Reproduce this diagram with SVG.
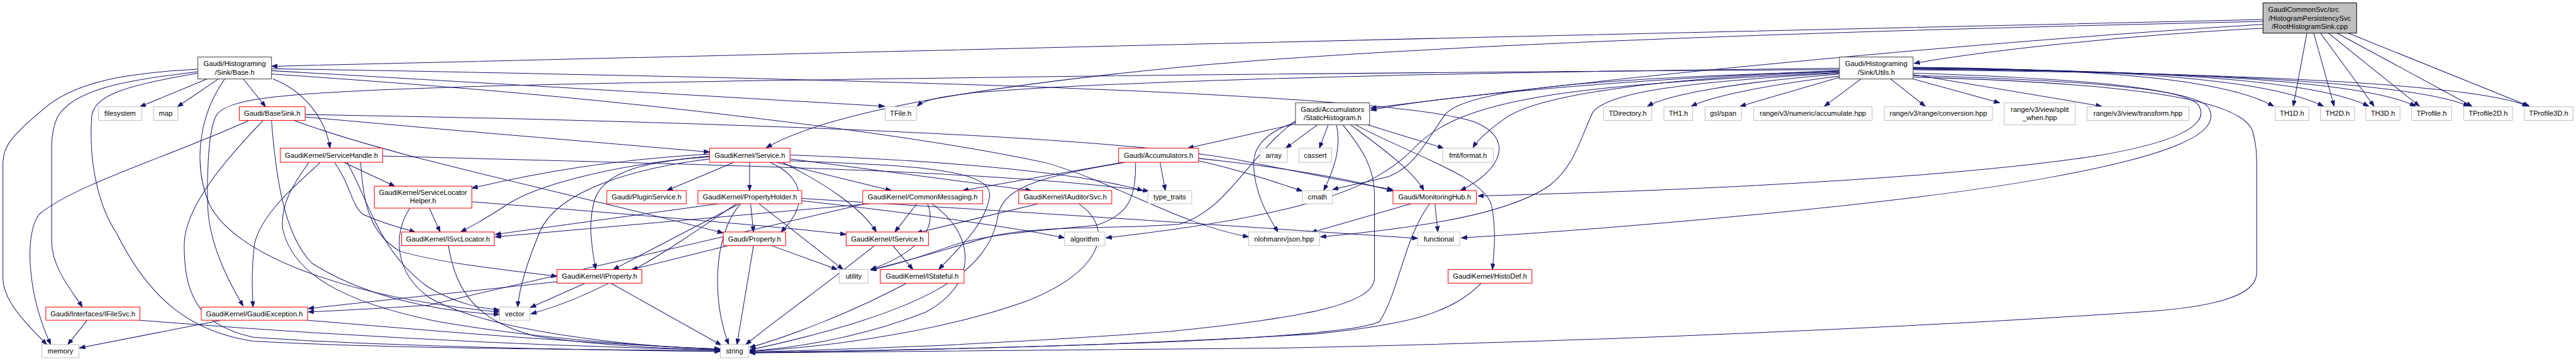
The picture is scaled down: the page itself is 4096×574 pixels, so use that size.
<svg xmlns="http://www.w3.org/2000/svg" width="4096" height="574" viewBox="0 0 4096 574">
<defs>
<style>
.t{font-family:"Liberation Sans",Arial,sans-serif;font-size:14.5px;text-anchor:middle;fill:#000}
.r{fill:#fff;stroke:#ff0000;stroke-width:1.3}
.g{fill:#fff;stroke:#bfbfbf;stroke-width:1.3}
.k{fill:#fff;stroke:#404040;stroke-width:1.3}
.root{fill:#bfbfbf;stroke:#000;stroke-width:1.3}
#edges path{fill:none;stroke:#191970;stroke-width:1.3;marker-end:url(#a)}
</style>
<marker id="a" viewBox="0 0 12 9" refX="12" refY="4.5" markerWidth="12" markerHeight="9" markerUnits="userSpaceOnUse" orient="auto"><path d="M0,0 L12,4.5 L0,9 z" fill="#191970" stroke="#191970" stroke-width="1"/></marker>
</defs>
<rect x="0" y="0" width="4096" height="574" fill="#fff"/>
<g transform="scale(0.775)">
<g id="edges">
<path d="M4643,40 C3300,68 1800,108 557,136"/>
<path d="M4643,58 C4400,70 4100,100 3927,130"/>
<path d="M4643,50 C4000,90 3300,160 2812,222"/>
<path d="M4643,44 C3600,66 2800,100 2400,140 C2000,180 1700,230 1572,303"/>
<path d="M4733,68 L4705,218"/>
<path d="M4747,68 L4789,218"/>
<path d="M4761,68 L4871,218"/>
<path d="M4777,68 L4964,218"/>
<path d="M4795,68 L5072,218"/>
<path d="M4818,68 L5190,218"/>
<path d="M3776,158 L3570,218"/>
<path d="M3818,162 L3743,218"/>
<path d="M3879,162 L3950,218"/>
<path d="M3925,162 L4103,211"/>
<path d="M3925,153 L4312,218"/>
<path d="M3925,138 C4300,142 4560,160 4665,218"/>
<path d="M3925,139 C4350,143 4650,160 4767,218"/>
<path d="M3925,140 C4400,144 4750,162 4860,218"/>
<path d="M3925,141 C4450,145 4850,165 4956,218"/>
<path d="M3925,142 C4500,147 4950,168 5066,218"/>
<path d="M3925,143 C4600,150 5080,172 5187,218"/>
<path d="M3925,150 C4250,160 4480,180 4510,215 C4540,260 4450,295 4300,320 C4000,365 3500,390 3032,402"/>
<path d="M3925,155 C4300,165 4510,185 4532,222 C4560,275 4450,320 4200,365 C3900,420 3300,470 2998,488"/>
<path d="M3925,158 C4350,170 4600,200 4622,270 C4630,300 4630,320 4630,340 L4630,560 C4630,605 4550,628 4420,638 C4000,668 3300,700 2640,714 C2200,720 1800,723 1538,724"/>
<path d="M3774,145 C3400,160 3000,190 2812,226"/>
<path d="M3774,140 C3000,148 2300,165 2000,190 C1930,198 1895,205 1882,218"/>
<path d="M3774,152 C3550,170 3420,195 3380,218"/>
<path d="M3774,156 C3620,175 3510,198 3470,218"/>
<path d="M3774,147 C3400,160 3150,195 3085,245 C3050,270 3030,290 3022,303"/>
<path d="M3774,150 C3450,168 3300,190 3268,230 C3240,290 3230,340 3180,380 C3080,450 2850,472 2709,486"/>
<path d="M3774,146 C3300,160 3010,180 2965,235 C2925,290 2905,340 2850,362 C2800,375 2760,382 2734,389"/>
<path d="M3774,149 C3200,175 3000,205 2905,300 C2830,380 2700,440 2269,488"/>
<path d="M3774,143 C2500,150 1200,168 900,180 C600,190 470,200 445,235 C425,265 425,380 426,420 C428,500 470,580 499,628"/>
<path d="M425,162 L287,219"/>
<path d="M448,162 L364,219"/>
<path d="M499,162 L545,219"/>
<path d="M560,162 C620,185 668,240 677,304"/>
<path d="M406,142 C250,150 160,170 100,215 C20,280 6,300 6,340 L6,570 C6,620 60,670 96,707"/>
<path d="M406,147 C250,165 150,185 118,240 C108,262 106,280 106,300 L106,495 C106,550 150,600 169,630"/>
<path d="M406,150 C260,175 192,195 188,240 C182,330 200,420 240,480 C300,600 380,680 520,700 C800,715 1200,718 1478,719"/>
<path d="M461,162 C400,250 400,350 430,420 C480,520 700,610 1025,640"/>
<path d="M557,145 L1815,218"/>
<path d="M557,141 C1800,162 2850,190 3025,250 C3110,285 3080,350 2996,391"/>
<path d="M557,152 C1300,200 1900,280 2150,335 C2300,380 2420,460 2562,486"/>
<path d="M511,247 C350,320 150,380 80,440 C50,480 55,600 104,707"/>
<path d="M540,247 C470,320 380,420 378,500 C376,620 420,670 520,692 C800,712 1200,718 1478,721"/>
<path d="M557,247 C565,350 580,480 640,540 C750,610 900,640 1025,645"/>
<path d="M603,247 C800,320 1100,380 1484,478"/>
<path d="M626,240 C900,265 1200,290 1456,312"/>
<path d="M626,235 C1500,250 2300,280 2550,330 C2700,360 2800,380 2858,389"/>
<path d="M705,333 L810,382"/>
<path d="M686,333 C720,380 720,420 745,440 C790,460 830,470 852,476"/>
<path d="M657,333 C620,370 540,430 522,500 C515,560 518,600 519,630"/>
<path d="M634,333 C600,380 575,420 580,470 C600,560 700,620 900,660 C1100,695 1350,712 1478,717"/>
<path d="M740,333 C745,420 760,480 820,515 C900,540 1050,555 1143,567"/>
<path d="M712,333 C760,420 780,520 880,590 C940,625 990,633 1025,636"/>
<path d="M785,320 C1300,335 2000,345 2357,392"/>
<path d="M881,427 L903,476"/>
<path d="M841,427 C805,480 810,560 880,610 C1000,680 1300,712 1478,716"/>
<path d="M968,414 C1300,440 1600,465 1736,481"/>
<path d="M920,504 C935,600 980,660 1100,690 C1250,712 1400,716 1478,718"/>
<path d="M1506,333 L1368,391"/>
<path d="M1538,333 L1538,391"/>
<path d="M1592,333 L1829,391"/>
<path d="M1621,326 L2116,391"/>
<path d="M1580,333 C1650,365 1660,420 1602,476"/>
<path d="M1456,322 C1330,330 1240,350 1220,410 C1205,460 1215,510 1222,553"/>
<path d="M1456,326 C1300,345 1150,390 1110,470 C1080,540 1066,590 1062,630"/>
<path d="M1456,320 C1250,340 1100,380 1040,420 C995,450 960,468 945,476"/>
<path d="M1456,316 C1250,328 1100,355 968,386"/>
<path d="M1605,333 C1700,380 1770,430 1798,476"/>
<path d="M1621,330 C1900,340 2040,350 2030,405 C2020,465 1960,515 1926,553"/>
<path d="M1621,318 C1900,328 2200,350 2345,391"/>
<path d="M1474,418 L1016,481"/>
<path d="M1517,418 L1258,553"/>
<path d="M1540,418 L1546,476"/>
<path d="M1557,418 L1730,553"/>
<path d="M1520,418 C1470,470 1455,600 1495,707"/>
<path d="M1511,418 C1390,500 1250,600 1089,644"/>
<path d="M1645,412 C1900,440 2100,470 2184,488"/>
<path d="M1645,407 C2000,428 2600,468 2909,489"/>
<path d="M1785,418 L1016,486"/>
<path d="M1881,418 L1836,476"/>
<path d="M1903,418 C1925,470 1880,520 1786,553"/>
<path d="M1912,418 C2000,480 2010,580 1900,640 C1750,700 1600,716 1538,720"/>
<path d="M1775,418 L880,626 Q760,634 632,640"/>
<path d="M2130,418 L1880,478"/>
<path d="M2213,418 C2290,470 2260,560 2100,620 C1900,690 1650,715 1538,721"/>
<path d="M2303,333 L1975,391"/>
<path d="M2380,333 L2391,391"/>
<path d="M2330,333 C2330,400 2320,440 2250,462 C2150,472 2020,480 1950,505 C1880,530 1820,548 1786,554"/>
<path d="M2459,330 C2550,350 2620,375 2672,392"/>
<path d="M2459,325 C2650,345 2780,370 2858,392"/>
<path d="M2310,333 C2150,360 2060,380 2048,440 C2030,560 1900,640 1538,718"/>
<path d="M2660,254 L2437,304"/>
<path d="M2703,256 L2638,304"/>
<path d="M2725,256 L2707,304"/>
<path d="M2742,256 C2752,300 2740,340 2716,391"/>
<path d="M2755,256 C2790,300 2820,340 2820,400 L2820,570 C2820,620 2700,650 2400,680 C2000,710 1700,718 1538,722"/>
<path d="M2771,256 C2830,300 2900,350 2921,391"/>
<path d="M2781,256 C2900,320 3040,360 3060,420 C3070,470 3066,510 3062,553"/>
<path d="M2806,256 L2962,304"/>
<path d="M2660,250 C2600,270 2570,300 2572,340 C2575,400 2600,440 2622,476"/>
<path d="M2658,248 C2560,320 2520,430 2420,460 C2300,470 2120,462 2030,486 C1950,508 1850,540 1786,553"/>
<path d="M2895,418 L2690,477"/>
<path d="M2944,418 L2950,476"/>
<path d="M2933,418 C2880,490 2870,600 2830,660 C2750,700 2000,716 1538,723"/>
<path d="M3039,581 C2980,640 2900,665 2700,685 C2300,710 1800,720 1538,724"/>
<path d="M1201,581 L1088,631"/>
<path d="M1253,581 L1480,708"/>
<path d="M1143,578 C950,598 800,615 632,633"/>
<path d="M1494,504 L1296,553"/>
<path d="M1546,504 L1512,707"/>
<path d="M1583,504 L1718,553"/>
<path d="M1832,504 L1873,553"/>
<path d="M1794,504 C1700,580 1600,650 1530,707"/>
<path d="M1860,581 C1750,640 1620,690 1538,713"/>
<path d="M453,657 L163,714"/>
<path d="M631,657 C900,680 1200,705 1478,716"/>
<path d="M179,657 L139,707"/>
<path d="M287,657 C700,690 1100,710 1478,718"/>
</g>
<g id="n_root"><rect class="root" x="4643" y="6" width="192" height="62"/><text class="t" x="4726" y="25">GaudiCommonSvc/src</text><text class="t" x="4739" y="42">/HistogramPersistencySvc</text><text class="t" x="4739" y="59">/RootHistogramSink.cpp</text></g>
<g id="n_base"><rect class="k" x="406" y="117" width="151" height="45"/><text class="t" x="481.5" y="136">Gaudi/Histograming</text><text class="t" x="481.5" y="153">/Sink/Base.h</text></g>
<g id="n_utils"><rect class="k" x="3774" y="117" width="151" height="45"/><text class="t" x="3849.5" y="136">Gaudi/Histograming</text><text class="t" x="3849.5" y="153">/Sink/Utils.h</text></g>
<g id="n_filesystem"><rect class="g" x="202" y="219" width="89" height="28"/><text class="t" x="246.5" y="238">filesystem</text></g>
<g id="n_map"><rect class="g" x="315" y="219" width="50" height="28"/><text class="t" x="340" y="238">map</text></g>
<g id="n_basesink"><rect class="r" x="491" y="219" width="135" height="28"/><text class="t" x="558.5" y="238">Gaudi/BaseSink.h</text></g>
<g id="n_tfile"><rect class="g" x="1816" y="219" width="64" height="28"/><text class="t" x="1848" y="238">TFile.h</text></g>
<g id="n_statichist"><rect class="k" x="2658" y="211" width="152" height="45"/><text class="t" x="2734" y="230">Gaudi/Accumulators</text><text class="t" x="2734" y="247">/StaticHistogram.h</text></g>
<g id="n_tdirectory"><rect class="g" x="3290" y="219" width="99" height="28"/><text class="t" x="3339.5" y="238">TDirectory.h</text></g>
<g id="n_th1"><rect class="g" x="3414" y="219" width="59" height="28"/><text class="t" x="3443.5" y="238">TH1.h</text></g>
<g id="n_gslspan"><rect class="g" x="3498" y="219" width="75" height="28"/><text class="t" x="3535.5" y="238">gsl/span</text></g>
<g id="n_accumulate"><rect class="g" x="3598" y="219" width="243" height="28"/><text class="t" x="3719.5" y="238">range/v3/numeric/accumulate.hpp</text></g>
<g id="n_conversion"><rect class="g" x="3866" y="219" width="222" height="28"/><text class="t" x="3977" y="238">range/v3/range/conversion.hpp</text></g>
<g id="n_splitwhen"><rect class="g" x="4112" y="211" width="146" height="45"/><text class="t" x="4185" y="230">range/v3/view/split</text><text class="t" x="4185" y="247">_when.hpp</text></g>
<g id="n_transform"><rect class="g" x="4282" y="219" width="209" height="28"/><text class="t" x="4386.5" y="238">range/v3/view/transform.hpp</text></g>
<g id="n_th1d"><rect class="g" x="4668" y="219" width="69" height="28"/><text class="t" x="4702.5" y="238">TH1D.h</text></g>
<g id="n_th2d"><rect class="g" x="4761" y="219" width="70" height="28"/><text class="t" x="4796" y="238">TH2D.h</text></g>
<g id="n_th3d"><rect class="g" x="4854" y="219" width="70" height="28"/><text class="t" x="4889" y="238">TH3D.h</text></g>
<g id="n_tprofile"><rect class="g" x="4948" y="219" width="82" height="28"/><text class="t" x="4989" y="238">TProfile.h</text></g>
<g id="n_tprofile2d"><rect class="g" x="5055" y="219" width="100" height="28"/><text class="t" x="5105" y="238">TProfile2D.h</text></g>
<g id="n_tprofile3d"><rect class="g" x="5179" y="219" width="100" height="28"/><text class="t" x="5229" y="238">TProfile3D.h</text></g>
<g id="n_servicehandle"><rect class="r" x="575" y="304" width="210" height="29"/><text class="t" x="680" y="323.5">GaudiKernel/ServiceHandle.h</text></g>
<g id="n_service"><rect class="r" x="1456" y="304" width="165" height="29"/><text class="t" x="1538.5" y="323.5">GaudiKernel/Service.h</text></g>
<g id="n_accumulators"><rect class="r" x="2295" y="304" width="164" height="29"/><text class="t" x="2377" y="323.5">Gaudi/Accumulators.h</text></g>
<g id="n_array"><rect class="g" x="2585" y="304" width="56" height="29"/><text class="t" x="2613" y="323.5">array</text></g>
<g id="n_cassert"><rect class="g" x="2665" y="304" width="67" height="29"/><text class="t" x="2698.5" y="323.5">cassert</text></g>
<g id="n_fmt"><rect class="g" x="2960" y="304" width="104" height="29"/><text class="t" x="3012" y="323.5">fmt/format.h</text></g>
<g id="n_slh"><rect class="r" x="768" y="382" width="200" height="45"/><text class="t" x="868" y="400">GaudiKernel/ServiceLocator</text><text class="t" x="868" y="417">Helper.h</text></g>
<g id="n_pluginservice"><rect class="r" x="1245" y="391" width="163" height="27"/><text class="t" x="1326.5" y="409.5">Gaudi/PluginService.h</text></g>
<g id="n_propertyholder"><rect class="r" x="1432" y="391" width="213" height="27"/><text class="t" x="1538.5" y="409.5">GaudiKernel/PropertyHolder.h</text></g>
<g id="n_commonmessaging"><rect class="r" x="1770" y="391" width="246" height="27"/><text class="t" x="1893" y="409.5">GaudiKernel/CommonMessaging.h</text></g>
<g id="n_iauditorsvc"><rect class="r" x="2090" y="391" width="191" height="27"/><text class="t" x="2185.5" y="409.5">GaudiKernel/IAuditorSvc.h</text></g>
<g id="n_typetraits"><rect class="g" x="2355" y="391" width="90" height="27"/><text class="t" x="2400" y="409.5">type_traits</text></g>
<g id="n_cmath"><rect class="g" x="2672" y="391" width="62" height="27"/><text class="t" x="2703" y="409.5">cmath</text></g>
<g id="n_monitoringhub"><rect class="r" x="2858" y="391" width="171" height="27"/><text class="t" x="2943.5" y="409.5">Gaudi/MonitoringHub.h</text></g>
<g id="n_isvclocator"><rect class="r" x="824" y="476" width="190" height="28"/><text class="t" x="919" y="495">GaudiKernel/ISvcLocator.h</text></g>
<g id="n_property"><rect class="r" x="1484" y="476" width="128" height="28"/><text class="t" x="1548" y="495">Gaudi/Property.h</text></g>
<g id="n_iservice"><rect class="r" x="1736" y="476" width="169" height="28"/><text class="t" x="1820.5" y="495">GaudiKernel/IService.h</text></g>
<g id="n_algorithm"><rect class="g" x="2184" y="476" width="83" height="28"/><text class="t" x="2225.5" y="495">algorithm</text></g>
<g id="n_json"><rect class="g" x="2562" y="476" width="145" height="28"/><text class="t" x="2634.5" y="495">nlohmann/json.hpp</text></g>
<g id="n_functional"><rect class="g" x="2909" y="476" width="86" height="28"/><text class="t" x="2952" y="495">functional</text></g>
<g id="n_iproperty"><rect class="r" x="1143" y="553" width="174" height="28"/><text class="t" x="1230" y="572">GaudiKernel/IProperty.h</text></g>
<g id="n_utility"><rect class="g" x="1722" y="553" width="59" height="28"/><text class="t" x="1751.5" y="572">utility</text></g>
<g id="n_istateful"><rect class="r" x="1806" y="553" width="172" height="28"/><text class="t" x="1892" y="572">GaudiKernel/IStateful.h</text></g>
<g id="n_histodef"><rect class="r" x="2971" y="553" width="172" height="28"/><text class="t" x="3057" y="572">GaudiKernel/HistoDef.h</text></g>
<g id="n_ifilesvc"><rect class="r" x="94" y="630" width="193" height="27"/><text class="t" x="190.5" y="648.5">Gaudi/Interfaces/IFileSvc.h</text></g>
<g id="n_gaudiexception"><rect class="r" x="413" y="630" width="218" height="27"/><text class="t" x="522" y="648.5">GaudiKernel/GaudiException.h</text></g>
<g id="n_vector"><rect class="g" x="1025" y="630" width="62" height="27"/><text class="t" x="1056" y="648.5">vector</text></g>
<g id="n_memory"><rect class="g" x="86" y="707" width="76" height="27"/><text class="t" x="124" y="725.5">memory</text></g>
<g id="n_string"><rect class="g" x="1478" y="707" width="58" height="27"/><text class="t" x="1507" y="725.5">string</text></g>
</g>
</svg>
